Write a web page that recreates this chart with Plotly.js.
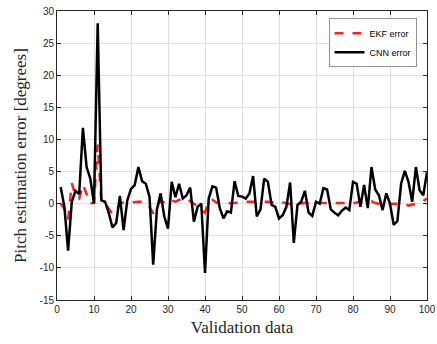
<!DOCTYPE html>
<html>
<head>
<meta charset="utf-8">
<script src="https://cdn.plot.ly/plotly-3.0.1.min.js"></script>
<style>html,body{margin:0;padding:0;background:#fff;}#chart{width:437px;height:344px;}</style>
</head>
<body>
<div id="chart"></div>
<script>
// Validation sample index
var sampleIndex = [];
for (var i = 1; i <= 100; i++) sampleIndex.push(i);

// EKF pitch error (degrees)
var ekfError = [
  0, -0.8, -2.5, 3.2, 1.2, 0.8, 3.0, 1.5, 0, 0.2,
  9.2, 0.2, 0, -0.8, -1.6, -1.0, 0, 0.2, 0.3, 0.2,
  0.3, 0.3, 0.3, 0.2, -0.5, -1.5, -0.4, 0.4, 0.2, 0,
  0.5, 0.3, 0.6, 0.9, 0.6, 0.4, 0, -0.4, -1.0, -1.4,
  0.4, 0.6, 0.2, 0, 0, 0, 0, 0.1, 0.2, 0.3,
  0.3, 0.3, 0.3, 0.3, 0.3, 0.4, 0.3, 0.2, 0.3, 0.4,
  0.2, 0.1, 0, -0.2, 0, 0.1, 0.1, 0.1, 0.1, 0.1,
  0.2, 0.2, 0.2, 0.2, 0.1, 0.1, 0.1, 0.1, 0, 0,
  0.2, 0.3, 0.3, 0.5, 0.4, 0.1, 0, 0, 0, 0,
  0.1, 0.1, 0.1, 0, -0.3, -0.2, 0, 0.1, 0.4, 0.8
];

// CNN pitch error (degrees)
var cnnError = [
  2.6, -0.5, -7.3, 0.3, 2.0, 1.5, 11.8, 5.7, 3.9, 0,
  28.1, 0.5, 0.3, -1.5, -3.7, -3.0, 1.2, -4.1, 0.5, 2.3,
  2.9, 5.7, 3.5, 3.1, 1.1, -9.5, -0.9, 1.6, -2.0, -3.9,
  3.4, 1.0, 3.1, 0.8, 1.3, 2.5, -2.8, -0.5, 0, -10.8,
  0.8, 2.7, 2.5, -0.7, -2.3, -1.2, -1.4, 3.5, 1.2, 1.1,
  0.8, 1.6, 4.3, -2.0, -0.9, 3.9, 3.4, -0.2, -0.5, -2.3,
  -1.8, -0.5, 3.3, -6.1, -0.2, 0.3, 2.0, -1.4, -1.9, 0.3,
  0, 2.4, 2.2, -0.9, -1.4, -1.8, -1.1, -0.6, -1.0, 3.4,
  3.1, -0.5, 2.9, -0.7, 5.7, 2.2, 1.3, -1.0, 1.6, 0,
  -3.3, -2.7, 3.1, 5.1, 3.4, 0.3, 5.7, 2.1, 1.3, 4.9
];

var xTicks = [0, 10, 20, 30, 40, 50, 60, 70, 80, 90, 100];
var yTicks = [-15, -10, -5, 0, 5, 10, 15, 20, 25, 30];

var traces = [
  {x: sampleIndex, y: ekfError, name: 'EKF error', mode: 'lines', type: 'scatter',
   line: {color: '#ff1f1f', width: 2.5, dash: 'dash'}},
  {x: sampleIndex, y: cnnError, name: 'CNN error', mode: 'lines', type: 'scatter',
   line: {color: '#000000', width: 2.5}}
];

var axisCommon = {
  showline: true, linecolor: '#262626', linewidth: 1, mirror: 'ticks',
  ticks: 'inside', ticklen: 4, tickcolor: '#262626', tickwidth: 1,
  showgrid: true, gridcolor: '#dedede', gridwidth: 1, zeroline: false,
  tickfont: {family: 'Liberation Sans, Arial, sans-serif', size: 10, color: '#262626'}
};

var layout = {
  width: 437, height: 344,
  margin: {l: 57, r: 10, t: 11, b: 44},
  paper_bgcolor: '#ffffff', plot_bgcolor: '#ffffff',
  showlegend: true,
  xaxis: Object.assign({}, axisCommon, {
    range: [0, 100], tickvals: xTicks, ticktext: xTicks.map(String),
    title: {text: 'Validation data', standoff: 7,
            font: {family: 'Liberation Serif, DejaVu Serif, serif', size: 17, color: '#262626'}}
  }),
  yaxis: Object.assign({}, axisCommon, {
    range: [-15, 30], tickvals: yTicks, ticktext: yTicks.map(String),
    title: {text: 'Pitch estimation error [degrees]', standoff: 8,
            font: {family: 'Liberation Serif, DejaVu Serif, serif', size: 17, color: '#262626'}}
  }),
  legend: {
    x: 0.973, y: 0.975, xanchor: 'right', yanchor: 'top',
    bgcolor: '#ffffff', bordercolor: '#262626', borderwidth: 0.5,
    font: {family: 'Liberation Sans, Arial, sans-serif', size: 9, color: '#000'},
    tracegroupgap: 0, itemwidth: 30, tracegroupgap: 0
  }
};

Plotly.newPlot('chart', traces, layout, {staticPlot: true, displayModeBar: false});
</script>
</body>
</html>
